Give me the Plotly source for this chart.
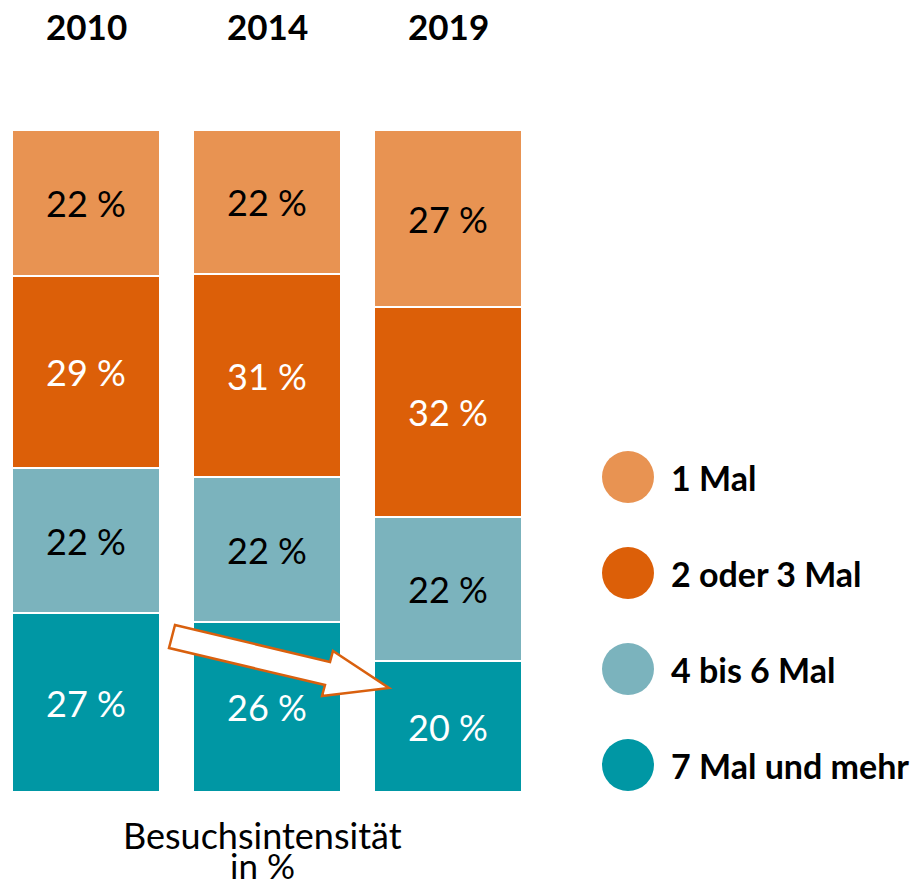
import plotly.graph_objects as go

years = ["2010", "2014", "2019"]
categories = ["7 Mal und mehr", "4 bis 6 Mal", "2 oder 3 Mal", "1 Mal"]
values = {
    "7 Mal und mehr": [27, 26, 20],
    "4 bis 6 Mal": [22, 22, 22],
    "2 oder 3 Mal": [29, 31, 32],
    "1 Mal": [22, 22, 27],
}
colors = {
    "7 Mal und mehr": "#0097A4",
    "4 bis 6 Mal": "#7BB3BD",
    "2 oder 3 Mal": "#DC5F08",
    "1 Mal": "#E89352",
}
text_colors = {
    "7 Mal und mehr": "white",
    "4 bis 6 Mal": "black",
    "2 oder 3 Mal": "white",
    "1 Mal": "black",
}
legend_order = ["1 Mal", "2 oder 3 Mal", "4 bis 6 Mal", "7 Mal und mehr"]

FONT = "Lato"
W, H = 921, 887
xpos = list(range(len(years)))

fig = go.Figure()
for cat in categories:
    fig.add_trace(go.Bar(
        x=xpos, y=values[cat], name=cat,
        marker=dict(color=colors[cat], line=dict(color="white", width=2)),
        width=0.818,
        text=[f"{v} %" for v in values[cat]],
        textposition="inside", insidetextanchor="middle",
        textfont=dict(family=FONT, size=36, color=text_colors[cat]),
        showlegend=False, hoverinfo="skip",
    ))

# custom legend (circles) on a pixel overlay axis
leg_y = [477 + 96 * i for i in range(len(legend_order))]
fig.add_trace(go.Scatter(
    x=[628] * len(legend_order), y=leg_y, mode="markers",
    marker=dict(size=52, color=[colors[c] for c in legend_order]),
    xaxis="x2", yaxis="y2", showlegend=False, hoverinfo="skip",
))
for c, yy in zip(legend_order, leg_y):
    fig.add_annotation(x=669, y=yy, xref="x2", yref="y2", text=f"<b>{c}</b>",
                       showarrow=False, xanchor="left", yanchor="middle",
                       font=dict(family=FONT, size=34, color="black"))

# year headers
for i, yr in enumerate(years):
    fig.add_annotation(x=i, y=26, xref="x", yref="y2", text=f"<b>{yr}</b>",
                       showarrow=False, xanchor="center", yanchor="middle",
                       font=dict(family=FONT, size=35, color="black"))

# axis title
fig.add_annotation(x=262, y=835, xref="x2", yref="y2", text="Besuchsintensität",
                   showarrow=False, xanchor="center", yanchor="middle",
                   font=dict(family=FONT, size=36, color="black"))
fig.add_annotation(x=262, y=865, xref="x2", yref="y2", text="in %",
                   showarrow=False, xanchor="center", yanchor="middle",
                   font=dict(family=FONT, size=35, color="black"))

# trend arrow
fig.add_shape(type="path", xref="x2", yref="y2",
              path="M175,625 L330,662 L333,651 L389,688 L322,696 L325,685 L169,648 Z",
              fillcolor="white", line=dict(color="#D9600E", width=2.5), layer="above")

cx0 = 86
fig.update_layout(
    width=W, height=H, margin=dict(l=0, r=0, t=0, b=0),
    paper_bgcolor="white", plot_bgcolor="rgba(0,0,0,0)",
    barmode="stack", barnorm="percent", bargap=0,
    xaxis=dict(domain=[0, 0.6], range=[-cx0 / 181, (0.6 * W - cx0) / 181],
               visible=False, fixedrange=True),
    yaxis=dict(domain=[1 - 792 / H, 1 - 130 / H], range=[0, 100],
               visible=False, fixedrange=True),
    xaxis2=dict(domain=[0, 1], range=[0, W], visible=False, anchor="y2", fixedrange=True),
    yaxis2=dict(domain=[0, 1], range=[H, 0], visible=False, anchor="x2", fixedrange=True),
    font=dict(family=FONT),
)

fig.write_html("out.html", config={"displayModeBar": False},
               post_script="document.body.style.margin='0px';")
